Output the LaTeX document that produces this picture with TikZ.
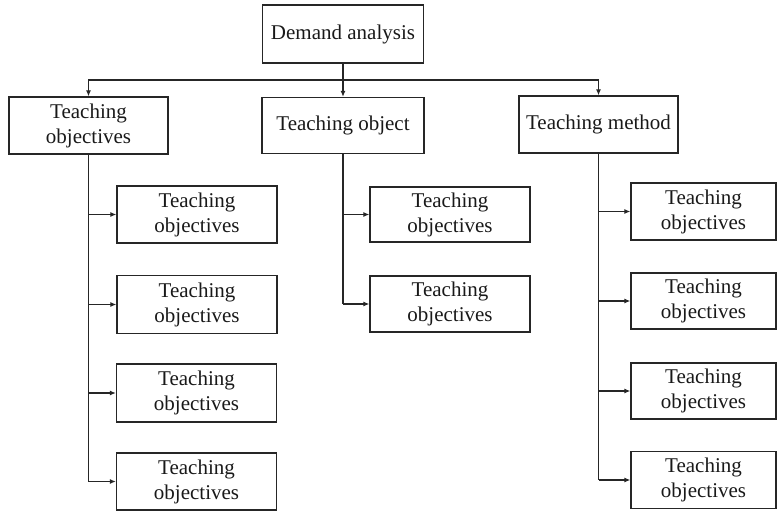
\documentclass[tikz,border=0pt]{standalone}
\usepackage{fontspec}
\setmainfont{Liberation Serif}
\usetikzlibrary{arrows.meta}
\begin{document}
\begin{tikzpicture}[x=1pt,y=-1pt,
  box/.style={draw=black!85, line width=1.25pt, rectangle, inner sep=0pt,
    text=black!90, align=center, font=\fontsize{21}{25}\selectfont},
  link/.style={draw=black!85, line width=1.25pt},
  arr/.style={link, -{Latex[length=6pt,width=5pt]}}]
\clip (0,0) rectangle (777,511);
% top level
\node[box, minimum width=161pt, minimum height=58pt] (dem) at (343,34) {Demand analysis};
\node[box, minimum width=159pt, minimum height=57pt] (tobj) at (88.5,125.5) {Teaching\\objectives};
\node[box, minimum width=162pt, minimum height=56pt] (tob) at (343,125.5) {Teaching object};
\node[box, minimum width=159pt, minimum height=57pt] (tm) at (598.5,124.5) {Teaching method};
% left children
\node[box, minimum width=160pt, minimum height=57pt] (l1) at (197,214.5) {Teaching\\objectives};
\node[box, minimum width=160pt, minimum height=58pt] (l2) at (197,304.5) {Teaching\\objectives};
\node[box, minimum width=160pt, minimum height=58pt] (l3) at (196.5,393) {Teaching\\objectives};
\node[box, minimum width=160pt, minimum height=57pt] (l4) at (196.5,481.5) {Teaching\\objectives};
% middle children
\node[box, minimum width=160pt, minimum height=55pt] (m1) at (450,214.5) {Teaching\\objectives};
\node[box, minimum width=160pt, minimum height=56pt] (m2) at (450,304) {Teaching\\objectives};
% right children
\node[box, minimum width=145pt, minimum height=57pt] (r1) at (703.5,211.5) {Teaching\\objectives};
\node[box, minimum width=145pt, minimum height=56pt] (r2) at (703.5,301) {Teaching\\objectives};
\node[box, minimum width=145pt, minimum height=56pt] (r3) at (703.5,391) {Teaching\\objectives};
\node[box, minimum width=145pt, minimum height=57pt] (r4) at (703.5,480) {Teaching\\objectives};
% bus from demand
\coordinate (bus) at (343,80);
\draw[link] (dem.south) -- (bus);
\draw[arr] (bus) -| (tobj.north);
\draw[arr] (bus) -- (tob.north);
\draw[arr] (bus) -| (tm.north);
% left branch
\draw[link] (tobj.south) -- (tobj.south |- l4.west);
\foreach \n in {l1,l2,l3,l4} \draw[arr] (tobj.south |- \n.west) -- (\n.west);
% middle branch
\draw[link] (tob.south) -- (tob.south |- m2.west);
\foreach \n in {m1,m2} \draw[arr] (tob.south |- \n.west) -- (\n.west);
% right branch
\draw[link] (tm.south) -- (tm.south |- r4.west);
\foreach \n in {r1,r2,r3,r4} \draw[arr] (tm.south |- \n.west) -- (\n.west);
\end{tikzpicture}
\end{document}
